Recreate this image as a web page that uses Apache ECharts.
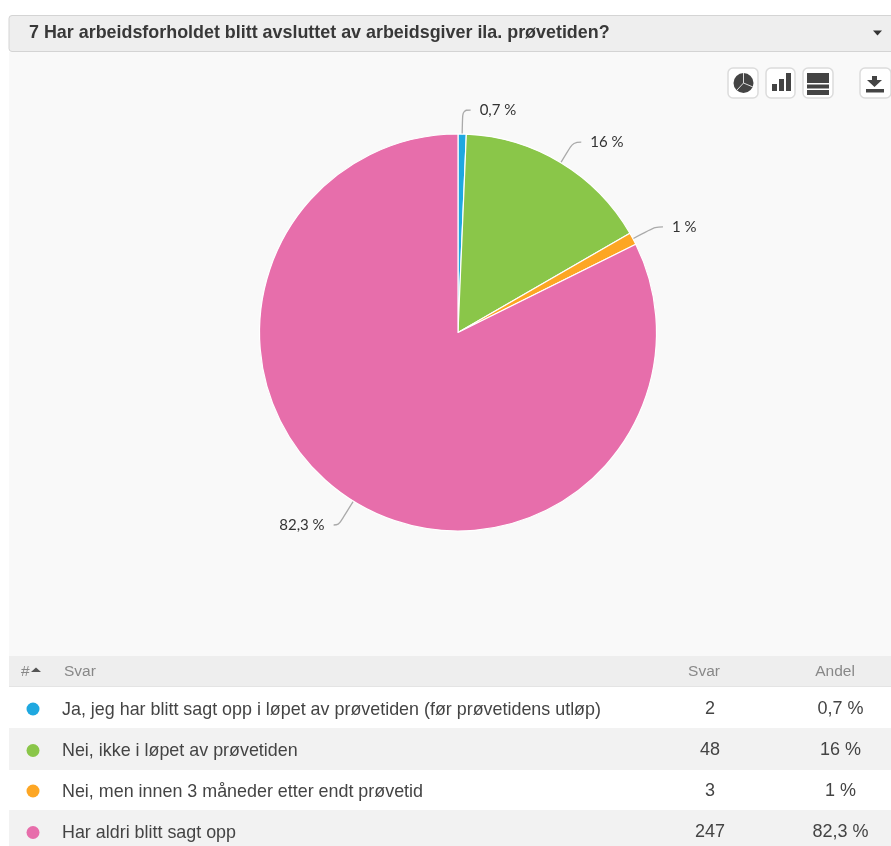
<!DOCTYPE html>
<html><head><meta charset="utf-8">
<style>html,body{margin:0;padding:0;background:#fff}#c{width:891px;height:846px}</style>
<script src="https://cdn.jsdelivr.net/npm/echarts@6/dist/echarts.min.js"></script>
</head><body><div id="c"></div>
<script>
const title = '7 Har arbeidsforholdet blitt avsluttet av arbeidsgiver ila. prøvetiden?';
const categories = ['Ja, jeg har blitt sagt opp i løpet av prøvetiden (før prøvetidens utløp)','Nei, ikke i løpet av prøvetiden','Nei, men innen 3 måneder etter endt prøvetid','Har aldri blitt sagt opp'];
const answers = [2, 48, 3, 247];
const shares = ['0,7 %', '16 %', '1 %', '82,3 %'];
const colors = ['#1fa8e0', '#8ac649', '#fda624', '#e76eab'];
const headers = ['#', 'Svar', 'Svar', 'Andel'];

const chart = echarts.init(document.getElementById('c'), null, {renderer:'canvas'});
const font = '"Liberation Sans", Arial, sans-serif';
const g = [];
const rect = (x,y,w,h,fill,extra={}) => g.push({type:'rect',silent:true,shape:{x,y,width:w,height:h,r:extra.r||0},style:{fill,stroke:extra.stroke,lineWidth:extra.lw||0,shadowBlur:extra.sb||0,shadowColor:extra.sc},z:extra.z||1});
const text = (x,y,t,size,fill,align='left',weight='normal') => g.push({type:'text',silent:true,x,y,style:{text:t,font:`${weight} ${size}px ${font}`,fill,align,verticalAlign:'middle'},z:3});

rect(9,52,882,604,'#f9f9f9');
rect(9,15.5,890,36,'#eeeeee',{stroke:'#d4d4d4',lw:1,r:3});
text(29,33.5,title,17.9,'#383838','left','bold');
g.push({type:'polygon',silent:true,shape:{points:[[873,30.5],[882,30.5],[877.5,35.5]]},style:{fill:'#333'},z:3});

// toolbar buttons
[[728,30],[766,29],[803,30],[860,31]].forEach(([x,w])=>rect(x,68,w,30,'#fff',{stroke:'#dcdcdc',lw:1.5,r:5,z:2}));
const ic='#444';
g.push({type:'circle',silent:true,shape:{cx:743.5,cy:83,r:10},style:{fill:ic},z:3});
[[[743.5,83],[743.5,73]],[[743.5,83],[753,87]],[[743.5,83],[737,90]]].forEach(p=>g.push({type:'polyline',silent:true,shape:{points:p},style:{stroke:'#ddd',lineWidth:1,fill:null},z:4}));
[[772,84,5,7],[779,79,5,12],[786,73,5,18]].forEach(([x,y,w,h])=>rect(x,y,w,h,ic,{z:3}));
rect(807,73,22,10,ic,{z:3});rect(807,84.5,22,4,ic,{z:3});rect(807,90,22,5,ic,{z:3});
g.push({type:'polygon',silent:true,shape:{points:[[872,76],[877,76],[877,80],[882,80],[874.5,87],[867,80],[872,80]]},style:{fill:ic},z:3});
rect(866,89,18,3.5,ic,{z:3});

// table
rect(9,656,882,31,'#eeeeee');
rect(9,686,882,1,'#e4e4e4',{z:2});
text(21,672,headers[0],15.5,'#888');
g.push({type:'polygon',silent:true,shape:{points:[[31,672],[41,672],[36,667.5]]},style:{fill:'#555'},z:3});
text(64,672,headers[1],15.5,'#888');
text(704,672,headers[2],15.5,'#888','center');
text(835,672,headers[3],15.5,'#888','center');
const rowTops=[687,728,770,810,846];
categories.forEach((c,i)=>{
  const y0=rowTops[i],y1=rowTops[i+1],cy=[709,750.5,791,832.5][i];
  rect(9,y0,882,y1-y0,i%2?'#f2f2f2':'#ffffff');
  g.push({type:'circle',silent:true,shape:{cx:33,cy,r:6.5},style:{fill:colors[i]},z:3});
  text(62,cy+1,c,17.9,'#444');
  text(710,cy,String(answers[i]),18,'#444','center');
  text(840.5,cy,shares[i],18,'#444','center');
});

const lines=[[24,8],[24,8],[25,8],[28,5]];
chart.setOption({
  animation:false,
  backgroundColor:'#fff',
  graphic:{elements:g},
  series:[{
    type:'pie',
    center:[458,332.5],
    radius:[0,198.5],
    startAngle:90,
    clockwise:true,
    avoidLabelOverlap:false,
    z:5,
    itemStyle:{borderColor:'#fff',borderWidth:1.2},
    label:{show:true,fontFamily:'Lato, sans-serif',fontSize:15,color:'#333',distanceToLabelLine:9,
      formatter:p=>shares[p.dataIndex]},
    labelLine:{show:true,smooth:0.4,lineStyle:{color:'#aaa',width:1.3}},
    emphasis:{disabled:true},
    data:categories.map((name,i)=>({name,value:answers[i],itemStyle:{color:colors[i]},
      labelLine:{length:lines[i][0],length2:lines[i][1]}}))
  }]
});
</script></body></html>
